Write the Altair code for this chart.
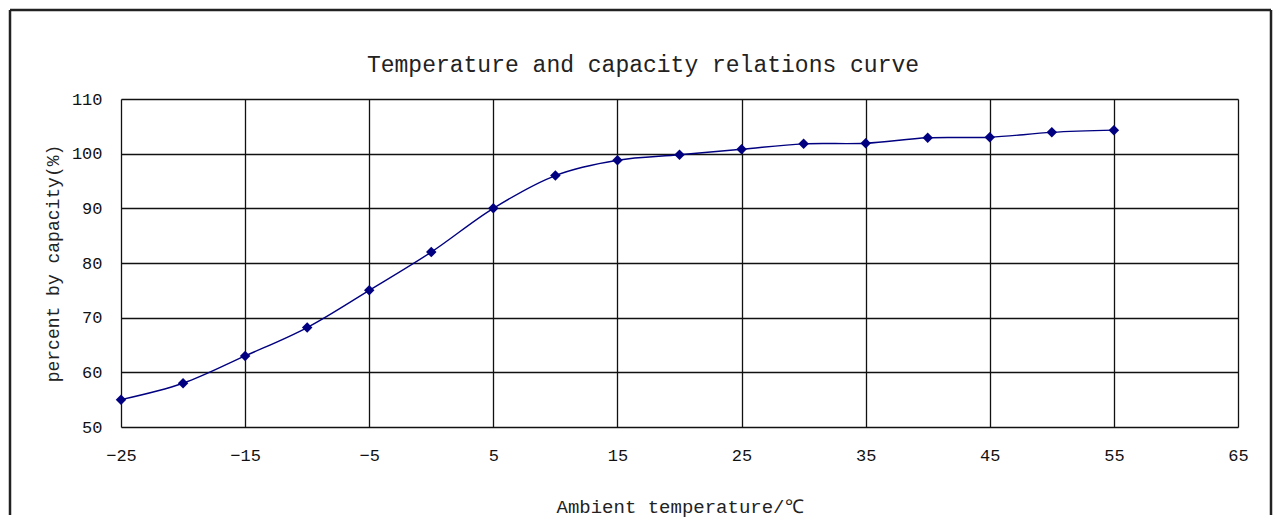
import altair as alt
import pandas as pd

temps = [-25, -20, -15, -10, -5, 0, 5, 10, 15, 20, 25, 30, 35, 40, 45, 50, 55]
capacity = [55, 58, 63, 68.2, 75, 82, 90, 96, 98.8, 99.8, 100.8, 101.8, 101.9, 102.9, 103, 103.9, 104.3]
x_ticks = [-25, -15, -5, 5, 15, 25, 35, 45, 55, 65]
y_ticks = [50, 60, 70, 80, 90, 100, 110]
title_text = "Temperature and capacity relations curve"

df = pd.DataFrame({"t": temps, "c": capacity})

FONT = "Liberation Mono"
NAVY = "#000080"

x_enc = alt.X(
    "t:Q",
    scale=alt.Scale(domain=[-25, 65], nice=False, zero=False),
    axis=alt.Axis(
        values=x_ticks, title="Ambient temperature/℃", grid=True,
        gridColor="#111111", gridWidth=1.3, ticks=False, domain=False,
        labelPadding=20, labelFont=FONT, labelFontSize=17, labelColor="#111",
        titleFont=FONT, titleFontSize=19, titleFontWeight="normal", titleColor="#222",
        titleY=79, titleBaseline="middle", labelFlush=False,
    ),
)
y_enc = alt.Y(
    "c:Q",
    scale=alt.Scale(domain=[50, 110], nice=False, zero=False),
    axis=alt.Axis(
        values=y_ticks, title="percent by capacity(%)", grid=True,
        gridColor="#111111", gridWidth=1.3, ticks=False, domain=False,
        labelPadding=19, labelFont=FONT, labelFontSize=17, labelColor="#111",
        titleFont=FONT, titleFontSize=18, titleFontWeight="normal", titleColor="#222",
        titleX=-68, titleBaseline="middle", labelFlush=False,
    ),
)

one = pd.DataFrame({"k": [0]})
frame_style = dict(color="#222", strokeWidth=2.5)
left_edge = alt.Chart(one).mark_rule(**frame_style).encode(
    x=alt.value(-111), y=alt.value(-89), y2=alt.value(416))
right_edge = alt.Chart(one).mark_rule(**frame_style).encode(
    x=alt.value(1150), y=alt.value(-89), y2=alt.value(416))
top_edge = alt.Chart(one).mark_rule(**frame_style).encode(
    x=alt.value(-111), x2=alt.value(1150), y=alt.value(-89))

title_mark = alt.Chart(one).mark_text(
    font=FONT, fontSize=23, color="#222", align="center", baseline="middle"
).encode(x=alt.value(522), y=alt.value(-34), text=alt.value(title_text))

line = alt.Chart(df).mark_line(
    color=NAVY, strokeWidth=1.4, interpolate="catmull-rom"
).encode(x=x_enc, y=y_enc)

pts = alt.Chart(df).mark_point(
    shape="diamond", filled=True, color=NAVY, size=110, opacity=1
).encode(x="t:Q", y="c:Q")

chart = alt.layer(left_edge, right_edge, top_edge, title_mark, line, pts).properties(
    width=1117, height=328,
    padding=0,
).configure_view(
    stroke="#000", strokeWidth=2.5
).configure(background="white")

chart.save("out.html", embed_options={"renderer": "svg", "actions": False})
